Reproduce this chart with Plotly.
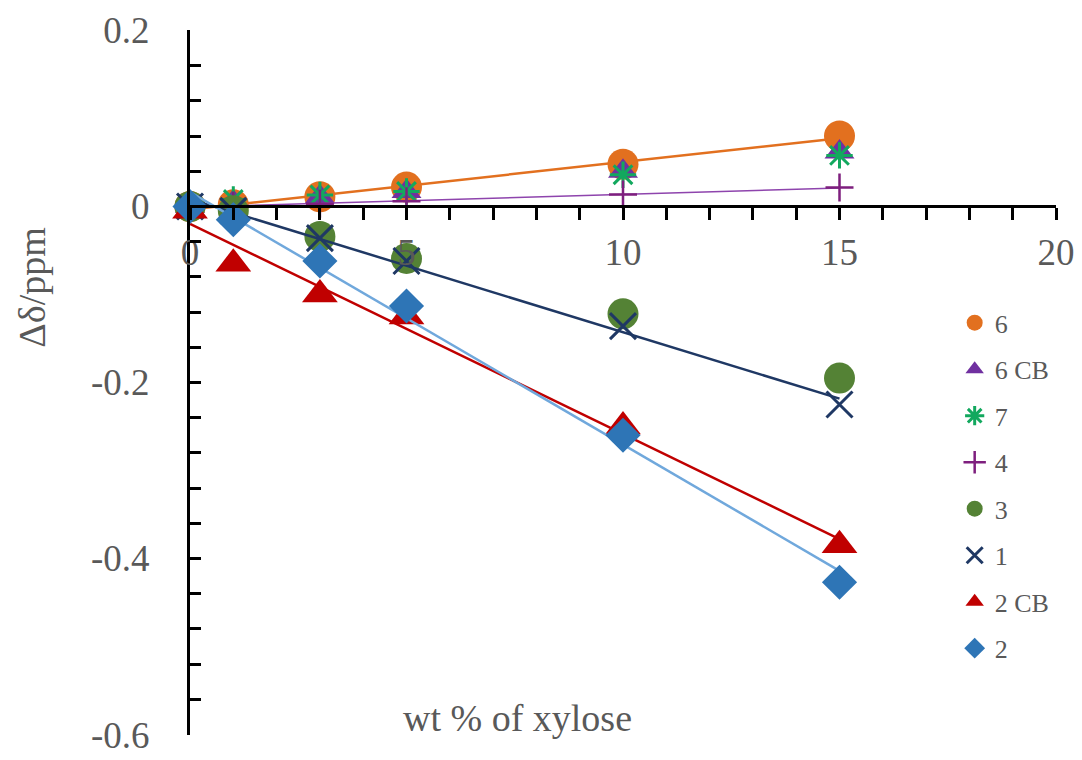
import numpy as np
import plotly.graph_objects as go

# ---- data ----
wt = [0, 1, 3, 5, 10, 15]

s6    = [0.000, 0.002, 0.011, 0.022, 0.048, 0.080]
s6cb  = [0.000, 0.005, 0.011, 0.017, 0.040, 0.062]
s7    = [0.000, 0.008, 0.013, 0.017, 0.036, 0.058]
s4    = [0.000, 0.001, 0.003, 0.006, 0.0136, 0.0215]
s3    = [0.000, -0.005, -0.034, -0.059, -0.122, -0.195]
s1    = [0.000, -0.005, -0.036, -0.062, -0.136, -0.225]
s2cb  = [-0.005, -0.065, -0.100, -0.125, -0.250, -0.385]
s2    = [0.000, -0.015, -0.062, -0.113, -0.260, -0.427]

names = ["6", "6 CB", "7", "4", "3", "1", "2 CB", "2"]

y_tick_vals = [-0.6, -0.4, -0.2, 0, 0.2]
y_tick_text = ["-0.6", "-0.4", "-0.2", "0", "0.2"]
x_tick_vals = [0, 5, 10, 15, 20]
x_tick_text = ["0", "5", "10", "15", "20"]

FONT = "Liberation Serif"
GREY = "#595959"

series = [
    # name, values, marker symbol, size, colour, marker line width, trendline colour, trendline width
    ("6",    s6,   "circle",          31, "#E2701F", 0, "#E2701F", 2.5),
    ("6 CB", s6cb, "triangle-up",     26, "#7030A0", 0, None, 0),
    ("7",    s7,   "asterisk-open",   22, "#12A85E", 3, None, 0),
    ("4",    s4,   "cross-thin-open", 20, "#7E1F7E", 2.5, "#8E44AD", 1.5),
    ("3",    s3,   "circle",          31, "#548235", 0, None, 0),
    ("1",    s1,   "x-thin-open",     26, "#1F3864", 3, "#1F3864", 2.5),
    ("2 CB", s2cb, "triangle-up",     31, "#C00000", 0, "#C00000", 2.5),
    ("2",    s2,   "diamond",         27, "#2E75B6", 0, "#70A8DC", 2.5),
]

fig = go.Figure()
for i, (nm, ys, sym, sz, col, lw, tcol, tw) in enumerate(series):
    if tcol is not None:
        k, b = np.polyfit(wt, ys, 1)
        xs = [wt[0], wt[-1]]
        fig.add_trace(go.Scatter(x=xs, y=[k * x + b for x in xs], mode="lines",
                                 line=dict(color=tcol, width=tw), showlegend=False,
                                 hoverinfo="skip", cliponaxis=False))
    mk = dict(symbol=sym, size=sz, color=col)
    if lw:
        mk["line"] = dict(color=col, width=lw)
    else:
        mk["line"] = dict(width=0)
    fig.add_trace(go.Scatter(x=wt, y=ys, mode="markers", name=nm, marker=mk,
                             cliponaxis=False, legendgroup=f"g{i}"))

fig.update_layout(
    width=1082, height=760,
    margin=dict(l=190, r=26, t=30, b=25),
    paper_bgcolor="white", plot_bgcolor="white",
    font=dict(family=FONT, color=GREY, size=37),
    legend=dict(x=0.883, y=0.618, xanchor="left", yanchor="top",
                font=dict(family=FONT, size=26, color=GREY),
                tracegroupgap=9.7, bgcolor="rgba(0,0,0,0)"),
    xaxis=dict(range=[0, 20], anchor="free", position=0.75,
               showgrid=False, zeroline=False, showline=True, linecolor="black", linewidth=3,
               ticks="outside", ticklen=12, tickwidth=3, tickcolor="black",
               tickvals=x_tick_vals, ticktext=x_tick_text,
               tickfont=dict(size=37, color=GREY, family=FONT),
               minor=dict(ticks="outside", dtick=1, ticklen=12, tickwidth=3, tickcolor="black"),
               automargin=False),
    yaxis=dict(range=[-0.6005, 0.2005], showgrid=False, zeroline=False, showline=True,
               linecolor="black", linewidth=3,
               ticks="inside", ticklen=11, tickwidth=3, tickcolor="black",
               tickvals=y_tick_vals, ticktext=y_tick_text, ticklabelstandoff=30,
               ticklabeloverflow="allow",
               tickfont=dict(size=37, color=GREY, family=FONT),
               minor=dict(ticks="inside", tick0=0, dtick=0.04, ticklen=11, tickwidth=3,
                          tickcolor="black"),
               automargin=False),
    annotations=[
        dict(text="wt % of xylose", xref="paper", yref="paper", x=0.3776, y=0.0241,
             xanchor="center", yanchor="middle",
             showarrow=False, font=dict(size=38, color=GREY, family=FONT)),
        dict(text="Δδ/ppm", xref="paper", yref="paper", x=-0.182, y=0.635,
             xanchor="center", yanchor="middle",
             textangle=-90, showarrow=False, font=dict(size=38, color=GREY, family=FONT)),
    ],
)

fig.write_html("out.html")
